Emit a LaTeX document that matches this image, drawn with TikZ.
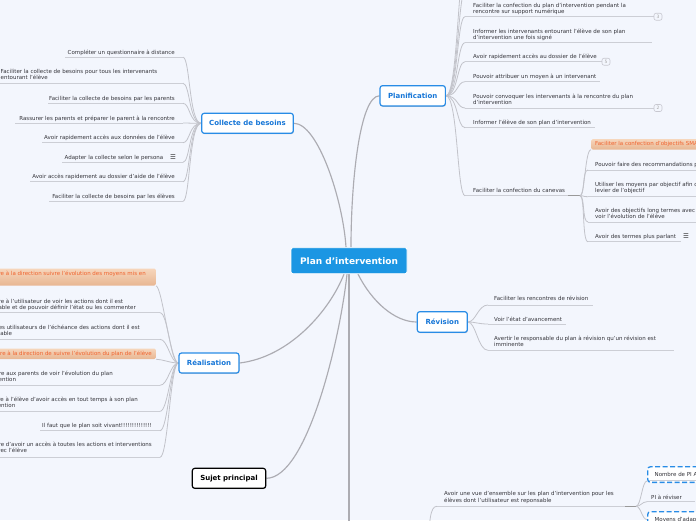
\documentclass[tikz,border=0pt]{standalone}
\usepackage{fontspec}
\setmainfont{DejaVu Sans}
\usetikzlibrary{shadows}
\definecolor{bgc}{RGB}{243,246,253}
\definecolor{txt}{RGB}{52,52,58}
\definecolor{ulc}{RGB}{204,206,213}
\definecolor{cnc}{RGB}{194,195,202}
\definecolor{mainc}{RGB}{172,172,178}
\definecolor{brd}{RGB}{40,140,230}
\definecolor{brtxt}{RGB}{22,118,215}
\definecolor{ctr}{RGB}{27,150,227}
\definecolor{orfillA}{RGB}{246,214,188}
\definecolor{orfillB}{RGB}{232,182,146}
\definecolor{ortxt}{RGB}{240,98,45}
\definecolor{badgec}{RGB}{200,200,208}
\newcommand\leaffont{\fontsize{5.5}{6.6}\selectfont}
\newcommand\brfont{\fontsize{7}{8}\selectfont\bfseries}
\newcommand\ctrfont{\fontsize{9}{10}\selectfont\bfseries}
\newcommand\bdgfont{\fontsize{4.5}{5}\selectfont}
\pgfdeclarelayer{bg}
\pgfsetlayers{bg,main}
\begin{document}
\begin{tikzpicture}[x=1pt,y=-1pt,
  leaf/.style={inner sep=0pt, font=\leaffont, text=txt},
  mleaf/.style={leaf, align=left},
  uline/.style={draw=ulc, line width=0.8pt},
  conn/.style={draw=cnc, line width=0.8pt},
  darkseg/.style={draw=black!40, line width=0.9pt},
  mconn/.style={draw=mainc, line width=1.15pt},
  branch/.style={draw=brd, line width=1.2pt, fill=white, rounded corners=2.5pt, text=brtxt, font=\brfont, inner sep=0pt,
     drop shadow={shadow xshift=0.5pt, shadow yshift=-0.8pt, opacity=0.18, fill=black}},
  ctrnode/.style={draw=white, line width=0.8pt, fill=ctr, rounded corners=2pt, text=white, font=\ctrfont, inner sep=0pt},
  orbox/.style={top color=orfillA, bottom color=orfillB, rounded corners=1.5pt, text=ortxt, font=\leaffont, inner xsep=4pt, inner ysep=2.5pt, align=left},
  dbox/.style={draw=brd, dash pattern=on 5pt off 2.5pt, line width=1.3pt, rounded corners=3pt, fill=white, font=\leaffont, text=txt, inner xsep=7pt, inner ysep=0pt, minimum height=15.7pt, anchor=north west},
  badge/.style={draw=badgec, line width=0.6pt, rounded corners=2pt, fill=bgc, text=black!35, font=\bdgfont, minimum width=8pt, minimum height=7pt, inner sep=0pt},
  icon/.style={font=\fontsize{6.5}{7}\selectfont, text=black!80, inner sep=0pt}]
\useasboundingbox (0,0) rectangle (696,520);
\begin{pgfonlayer}{bg}
\fill[bgc] (0,0) rectangle (696,520);
\end{pgfonlayer}
\clip (0,0) rectangle (696,520);

% ---------- main topics
\node[ctrnode, minimum width=116pt, minimum height=26pt] (central) at (349,260.7) {Plan d'intervention};
\node[branch, minimum width=91.6pt, minimum height=20pt] (collecte) at (247.5,123.3) {Collecte de besoins};
\node[branch, minimum width=65.3pt, minimum height=20.3pt] (planif) at (412.7,95.8) {Planification};
\node[branch, minimum width=50pt, minimum height=20.6pt] (revision) at (442.3,322) {Révision};
\node[branch, minimum width=60pt, minimum height=20pt] (realisation) at (209,363) {Réalisation};
\node[branch, draw=black, text=black, minimum width=73.4pt, minimum height=20pt] (sujet) at (229,478.3) {Sujet principal};
\coordinate (below) at (349,600);
\coordinate (hiddenpar) at (428,560);

\begin{pgfonlayer}{bg}
\draw[mconn] ([xshift=-3pt]central.north) .. controls (343,200) and (318,123.3) .. (collecte.east);
\draw[mconn] ([xshift=2pt]central.north) .. controls (351,180) and (360,95.8) .. (planif.west);
\draw[mconn] ([xshift=9pt]central.south) .. controls (372,302) and (395,322) .. (revision.west);
\draw[mconn] ([xshift=-5pt]central.south) .. controls (330,310) and (290,357) .. (realisation.east);
\draw[mconn] ([xshift=-2pt]central.south) .. controls (340,340) and (307,478.3) .. (sujet.east);
\draw[mconn] (central.south) -- (below);
\end{pgfonlayer}

% ---------- Collecte de besoins
\foreach \n/\b/\u/\l/\t in {
  c1/54.3/57.3/65/{Compléter un questionnaire à distance},
  c3/100.3/103.3/48/{Faciliter la collecte de besoins par les parents},
  c4/120/123/15/{Rassurer les parents et préparer le parent à la rencontre},
  c5/139.7/142.7/42/{Avoir rapidement accès aux données de l'élève},
  c7/178.7/181.7/30/{Avoir accès rapidement au dossier d'aide de l'élève},
  c8/198.3/201.3/49/{Faciliter la collecte de besoins par les élèves}}{
  \node[leaf, anchor=base east] (\n) at (175,\b) {\t};
  \coordinate (\n u) at (183,\u);
  \begin{pgfonlayer}{bg}
  \draw[uline] (\l,\u) -- (\n u);
  \draw[conn] (collecte.west) .. controls +(-12,0) and +(7,0) .. (\n u);
  \end{pgfonlayer}
}
\node[mleaf, anchor=north west] (c2) at (0.5,68.7) {Faciliter la collecte de besoins pour tous les intervenants\\entourant l'élève};
\coordinate (c2u) at (183,83.3);
\node[leaf, anchor=base east] (c6) at (163.5,159.3) {Adapter la collecte selon le persona};
\node[icon] (c6i) at (173,157) {☰};
\coordinate (c6u) at (183,162.3);
\begin{pgfonlayer}{bg}
\draw[uline] (0,83.3) -- (c2u);
\draw[conn] (collecte.west) .. controls +(-12,0) and +(7,0) .. (c2u);
\draw[uline] (62,162.3) -- (c6u);
\draw[conn] (collecte.west) .. controls +(-12,0) and +(7,0) .. (c6u);
\end{pgfonlayer}

% ---------- Planification
\foreach \n/\b/\u/\r/\t in {
  p3/58.7/61.7/602/{Avoir rapidement accès au dossier de l'élève},
  p4/78/81.7/600/{Pouvoir attribuer un moyen à un intervenant},
  p6/124/127.7/595/{Informer l'élève de son plan d'intervention},
  p7/192/195.7/568/{Faciliter la confection du canevas}}{
  \node[leaf, anchor=base west] (\n) at (473,\b) {\t};
  \coordinate (\n u) at (465,\u);
  \begin{pgfonlayer}{bg}
  \draw[uline] (\n u) -- (\r,\u);
  \draw[conn] (planif.east) .. controls +(12,0) and +(-8,0) .. (\n u);
  \end{pgfonlayer}
}
\node[mleaf, anchor=north west] (p1) at (473,2.7) {Faciliter la confection du plan d'intervention pendant la\\rencontre sur support numérique};
\coordinate (p1u) at (465,16.7);
\node[mleaf, anchor=north west] (p2) at (473,28.7) {Informer les intervenants entourant l'élève de son plan\\d'intervention une fois signé};
\coordinate (p2u) at (465,42.7);
\node[mleaf, anchor=north west] (p5) at (473,93.7) {Pouvoir convoquer les intervenants à la rencontre du plan\\d'intervention};
\coordinate (p5u) at (465,108);
\node[badge] (bA) at (658,16.7) {3};
\node[badge] (bB) at (606,61.7) {5};
\node[badge] (bC) at (658,108) {2};
\coordinate (ptopA) at (466,-12);
\coordinate (ptopB) at (466,-40);
\begin{pgfonlayer}{bg}
\draw[uline] (p1u) -- (bA.west);
\draw[uline] (p2u) -- (652,42.7);
\draw[uline] (p5u) -- (bC.west);
\foreach \n in {p1u,p2u,p5u,ptopA,ptopB}
  \draw[conn] (planif.east) .. controls +(12,0) and +(-8,0) .. (\n);
\end{pgfonlayer}

% ---------- canevas children
\coordinate (p7e) at (580,195.7);
\node[orbox, anchor=north west] (k1) at (591,139) {Faciliter la confection d'objectifs SMART};
\node[leaf, anchor=base west] (k2) at (595,166) {Pouvoir faire des recommandations pédagogiques};
\coordinate (k2u) at (588,170);
\node[mleaf, anchor=north west] (k3) at (595,181.7) {Utiliser les moyens par objectif afin d'être un\\levier de l'objectif};
\coordinate (k3u) at (588,196.7);
\node[mleaf, anchor=north west] (k4) at (595,207.7) {Avoir des objectifs long termes avec des jalons pour\\voir l'évolution de l'élève};
\coordinate (k4u) at (588,222);
\node[leaf, anchor=base west] (k5) at (595,238) {Avoir des termes plus parlant};
\node[icon] (k5i) at (686,236.5) {☰};
\coordinate (k5u) at (588,241.7);
\begin{pgfonlayer}{bg}
\draw[darkseg] (p7u -| 568,0) -- (p7e);
\draw[uline] (k2u) -- (700,170);
\draw[uline] (k3u) -- (700,196.7);
\draw[uline] (k4u) -- (700,222);
\draw[uline] (k5u) -- (681,241.7);
\draw[conn] (p7e) .. controls +(5,0) and +(-6,0) .. (k1.south west);
\foreach \n in {k2u,k3u,k4u,k5u}
  \draw[conn] (p7e) .. controls +(5,0) and +(-6,0) .. (\n);
\end{pgfonlayer}

% ---------- Révision
\node[leaf, anchor=base west] (v1) at (494,300.5) {Faciliter les rencontres de révision};
\coordinate (v1u) at (488,305);
\node[leaf, anchor=base west] (v2) at (494,321) {Voir l'état d'avancement};
\coordinate (v2u) at (488,324);
\node[mleaf, anchor=north west] (v3) at (494,335.7) {Avertir le responsable du plan à révision qu'un révision est\\imminente};
\coordinate (v3u) at (488,350.3);
\begin{pgfonlayer}{bg}
\draw[uline] (v1u) -- (593,305);
\draw[uline] (v2u) -- (566,324);
\draw[uline] (v3u) -- (674,350.3);
\foreach \n in {v1u,v2u,v3u}
  \draw[conn] (revision.east) .. controls +(8,0) and +(-10,0) .. (\n);
\end{pgfonlayer}

% ---------- Réalisation
\node[orbox, anchor=north east] (rA) at (156,268.3) {Permettre à la direction suivre l'évolution des moyens mis en\rule{6pt}{0pt}\\place};
\node[mleaf, anchor=north east] (rB) at (136,298.7) {Permettre à l'utilisateur de voir les actions dont il est\\responsable et de pouvoir définir l'état ou les commenter};
\coordinate (rBu) at (160,312.7);
\node[mleaf, anchor=north east] (rC) at (140,324.7) {Aviser les utilisateurs de l'échéance des actions dont il est\\responsable};
\coordinate (rCu) at (160,339.3);
\node[orbox, anchor=north east] (rD) at (156,348.3) {Permettre à la direction de suivre l'évolution du plan de l'élève};
\node[mleaf, anchor=north east] (rE) at (113,370.7) {Permettre aux parents de voir l'évolution du plan\\d'intervention};
\coordinate (rEu) at (160,385.3);
\node[mleaf, anchor=north east] (rF) at (138,396.7) {Permettre à l'élève d'avoir accès en tout temps à son plan\\d'intervention};
\coordinate (rFu) at (160,411.3);
\node[leaf, anchor=base east] (rG) at (152,427) {Il faut que le plan soit vivant!!!!!!!!!!!!!!};
\coordinate (rGu) at (160,430.7);
\node[mleaf, anchor=north east] (rH) at (152,441.7) {Permettre d'avoir un accès à toutes les actions et interventions\\faites avec l'élève};
\coordinate (rHu) at (160,457.3);
\begin{pgfonlayer}{bg}
\draw[uline] (0,312.7) -- (rBu);
\draw[uline] (0,339.3) -- (rCu);
\draw[uline] (0,385.3) -- (rEu);
\draw[uline] (0,411.3) -- (rFu);
\draw[uline] (40,430.7) -- (rGu);
\draw[uline] (0,457.3) -- (rHu);
\draw[conn] (realisation.west) .. controls +(-8,0) and +(6,0) .. (rA.south east);
\draw[conn] (realisation.west) .. controls +(-8,0) and +(6,0) .. (rD.south east);
\foreach \n in {rBu,rCu,rEu,rFu,rGu,rHu}
  \draw[conn] (realisation.west) .. controls +(-8,0) and +(8,0) .. (\n);
\end{pgfonlayer}

% ---------- vue d'ensemble (bottom right)
\node[mleaf, anchor=north west] (vue) at (444,491.2) {Avoir une vue d'ensemble sur les plan d'intervention pour les\\élèves dont l'utilisateur est reponsable};
\coordinate (vueS) at (437,506.3);
\coordinate (vueE) at (636,506.3);
\node[dbox] (w1) at (647,466) {Nombre de PI Actifs};
\draw[uline] ([xshift=2pt,yshift=2.2pt]w1.south west) -- ([yshift=2.2pt]w1.south east);
\node[leaf, anchor=base west] (w2) at (651,499) {PI à réviser};
\coordinate (w2u) at (647,501.7);
\node[dbox] (w3) at (647,511) {Moyens d'adaptation};
\begin{pgfonlayer}{bg}
\draw[uline] (vueS) -- (625,506.3);
\draw[darkseg] (625,506.3) -- (vueE);
\draw[conn] (hiddenpar) .. controls (429,520) and (430,506.3) .. (vueS);
\draw[uline] (w2u) -- (695,501.7);
\draw[conn] (vueE) .. controls +(5,0) and +(-5,0) .. ([yshift=2pt]w1.south west);
\draw[conn] (vueE) .. controls +(5,0) and +(-5,0) .. (w2u);
\draw[conn] (vueE) .. controls +(5,0) and +(-5,0) .. (w3.west);
\end{pgfonlayer}
\end{tikzpicture}
\end{document}
